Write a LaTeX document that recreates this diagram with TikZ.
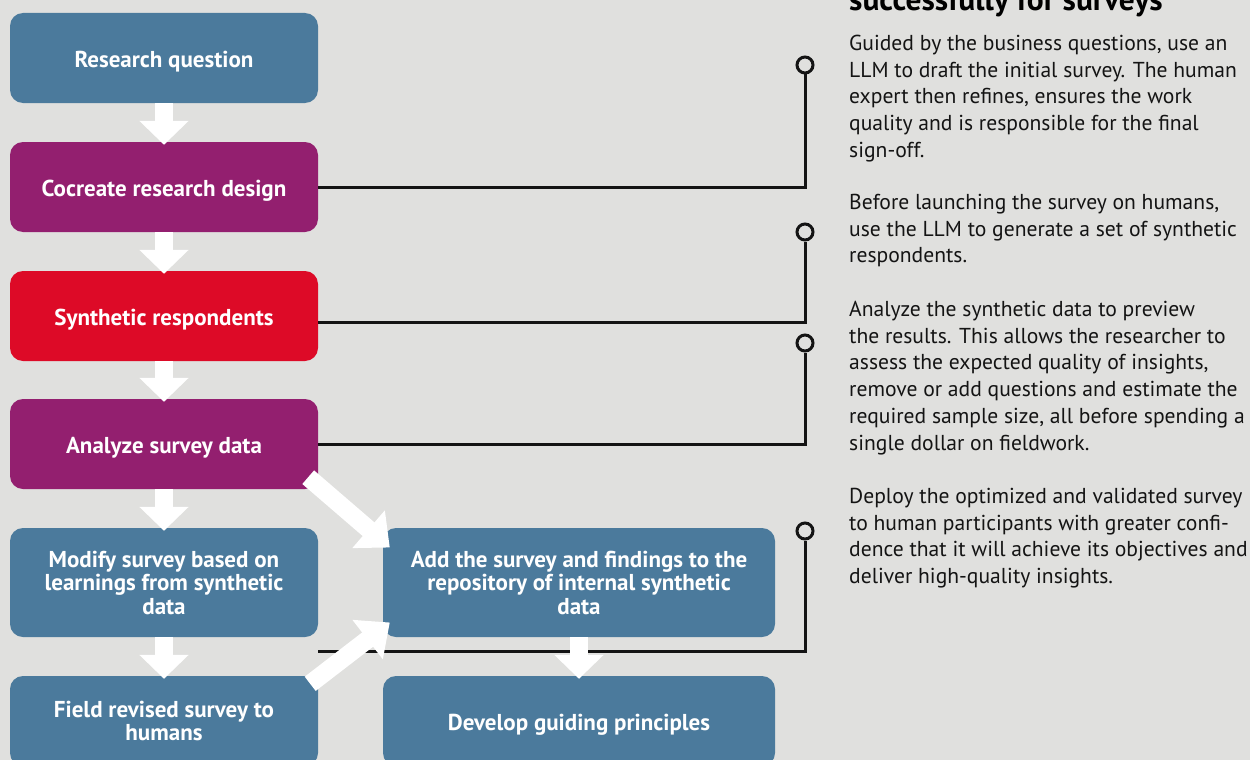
\documentclass[tikz,border=0pt]{standalone}
\usepackage{fontspec}
\setmainfont{PT Sans}
\usetikzlibrary{arrows.meta}
\definecolor{bg}{RGB}{224,224,222}
\definecolor{steel}{RGB}{75,122,156}
\definecolor{plum}{RGB}{147,31,111}
\definecolor{signal}{RGB}{221,10,39}
\definecolor{ink}{RGB}{20,20,20}

\begin{document}
\begin{tikzpicture}[x=1pt,y=-1pt,
    stepbox/.style={rounded corners=13pt,minimum width=308pt,minimum height=90pt,inner sep=0pt,
      text=white,align=center,font=\bfseries\fontsize{23}{23.5}\selectfont},
    oneline/.style={text height=19pt,text depth=0pt},
    flowarrow/.style={white,line width=18pt,-{Triangle[width=48pt,length=24pt]}},
    tie/.style={ink,line width=3pt},
    ring/.style={circle,draw=ink,line width=3pt,fill=bg,minimum size=16pt,inner sep=0pt},
    note/.style={anchor=north west,align=left,inner sep=0pt,text=ink,font=\fontsize{21.6}{26.7}\selectfont}]
  \useasboundingbox (0,0) rectangle (1250,760);
  \fill[bg] (0,0) rectangle (1250,760);
  \clip (0,0) rectangle (1250,760);

  % heading, cut off at the top edge
  \node[anchor=base west,inner sep=0pt,font=\bfseries\fontsize{31.5}{34}\selectfont] (ttl) at (849,11) {successfully for surveys};

  % process steps
  \node[stepbox,oneline,fill=steel] (rq) at (164,58) {Research question};
  \node[stepbox,oneline,fill=plum] (crd) at (164,187) {Cocreate research design};
  \node[stepbox,oneline,fill=signal] (syn) at (164,316) {Synthetic respondents};
  \node[stepbox,oneline,fill=plum] (ana) at (164,444) {Analyze survey data};
  \node[stepbox,fill=steel,minimum height=109pt] (mod) at (164,582.5) {Modify survey based on\\learnings from synthetic\\data};
  \node[stepbox,fill=steel] (fld) at (164,721) {Field revised survey to\\humans};
  \node[stepbox,fill=steel,minimum width=392pt,minimum height=109pt] (add) at (579,582.5) {Add the survey and findings to the\\repository of internal synthetic\\data};
  \node[stepbox,oneline,fill=steel,minimum width=392pt] (dev) at (579,721) {Develop guiding principles};

  % rings and lines to the notes
  \node[ring] (r1) at (805,65) {};
  \node[ring] (r2) at (805,232) {};
  \node[ring] (r3) at (805,343) {};
  \node[ring] (r4) at (805,531) {};
  \coordinate (lnk) at ([shift={(0,14)}]mod.south east);
  \draw[tie] (crd.east) -| (r1);
  \draw[tie] ([shift={(0,6)}]syn.east) -| (r2);
  \draw[tie] (ana.east) -| (r3);
  \draw[tie] (lnk) -| (r4);

  % block arrows
  \foreach \a/\b in {rq/crd,crd/syn,syn/ana,ana/mod,mod/fld,add/dev}
    \draw[flowarrow] (\a.south) -- ([shift={(0,3)}]\b.north);
  \draw[flowarrow,-{Triangle[width=48pt,length=28pt]}] ([shift={(-10,-12)}]ana.south east) -- ([shift={(7,-35)}]add.west);
  \draw[flowarrow,-{Triangle[width=48pt,length=28pt]}] ([shift={(-8,8)}]fld.north east) -- ([shift={(7,40)}]add.west);

  % notes
  \node[note] (p1) at (849,35) {Guided by the business questions, use an\\LLM to draft the initial survey. The human\\expert then refines, ensures the work\\quality and is responsible for the final\\sign-off.};
  \node[note] (p2) at (849,194) {Before launching the survey on humans,\\use the LLM to generate a set of synthetic\\respondents.};
  \node[note] (p3) at (849,301) {Analyze the synthetic data to preview\\the results. This allows the researcher to\\assess the expected quality of insights,\\remove or add questions and estimate the\\required sample size, all before spending a\\single dollar on fieldwork.};
  \node[note] (p4) at (849,488) {Deploy the optimized and validated survey\\to human participants with greater confi-\\dence that it will achieve its objectives and\\deliver high-quality insights.};
\end{tikzpicture}
\end{document}
